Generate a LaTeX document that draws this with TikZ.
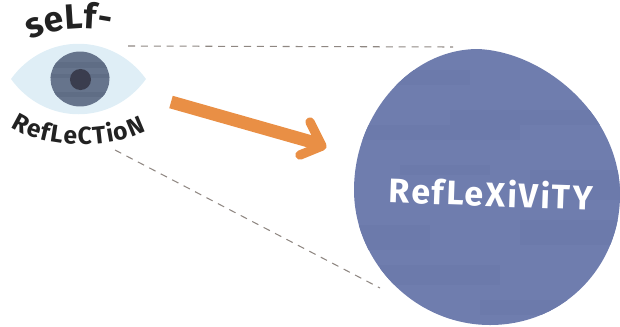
\documentclass[tikz,border=0pt]{standalone}
\usepackage{fontspec}
\setmainfont{Fira Sans}
\usetikzlibrary{shapes.geometric, decorations.text}
\definecolor{blobblue}{HTML}{6F7DAE}
\definecolor{blobdark}{HTML}{6C7AAB}
\definecolor{eyewhite}{HTML}{DFEEF6}
\definecolor{irisgrey}{HTML}{66748C}
\definecolor{irisdark}{HTML}{5F6D85}
\definecolor{pupilgrey}{HTML}{3A3D4E}
\definecolor{arroworange}{HTML}{E98F45}
\definecolor{dashgrey}{HTML}{8F8782}
\definecolor{inkblack}{HTML}{222222}
\tikzstyle{iris} = [
    ellipse,
    minimum width=50.3pt,
    minimum height=46.9pt,
    inner sep=0,
    fill=irisgrey
]
\tikzstyle{pupil} = [
    circle,
    minimum size=18pt,
    inner sep=0,
    fill=pupilgrey
]
\tikzstyle{dashline} = [dashgrey, line width=0.9pt, dash pattern=on 6pt off 5pt]
\tikzstyle{arrowline} = [arroworange, line width=11pt, line join=round]
\tikzstyle{headline} = [arroworange, line width=8pt, line cap=round, line join=round]

\begin{document}
\begin{tikzpicture}[x=0.03cm, y=-0.03cm]

\useasboundingbox (0,0) rectangle (620,326);

% the eye
\fill [eyewhite] (11,79) .. controls (45,32) and (112,32) .. (146,79)
    .. controls (112,126) and (45,126) .. (11,79);
\node (iris) [iris] at (80,79) {};
\begin{scope}
\clip (80,79) ellipse [x radius=29.5, y radius=27.5];
\foreach \ya/\yb in {62/68, 74/78, 92/97}
    \fill [irisdark] (50,\ya) rectangle (110,\yb);
\end{scope}
\node (pupil) [pupil] at (80.5,79.5) {};

% the big blob
\begin{scope}
\clip (478,49) .. controls (545,52) and (620,115) .. (620,195)
    .. controls (620,265) and (565,325) .. (490,325)
    .. controls (415,325) and (354,262) .. (354,190)
    .. controls (354,115) and (410,49) .. (478,49);
\fill [blobblue] (350,45) rectangle (620,326);
\foreach \xa/\ya/\xb/\yb in {350/70/470/85, 450/110/620/125, 350/125/520/140,
    400/165/490/175, 530/170/620/200, 350/225/430/250, 520/220/620/245,
    380/265/500/285, 480/300/600/315}
    \fill [blobdark] (\xa,\ya) rectangle (\xb,\yb);
\end{scope}
\node (reflexivity) [font=\fontsize{29}{29}\bfseries\addfontfeature{LetterSpace=6}, text=white, rotate=-2] at (491,193) {RefLeXiViTY};

% the labels
\path [decorate, decoration={text along path, text align={fit to path},
    text={|\fontsize{30}{30}\bfseries\selectfont\color{inkblack}|seLf-}}]
    (31,40) .. controls (55,28) and (85,26) .. (108,31);
\path [decorate, decoration={text along path, text align={fit to path},
    text={|\fontsize{21}{21}\bfseries\selectfont\color{inkblack}|RefLeCTioN}}]
    (11,127) .. controls (45,150) and (110,150) .. (146,131);

% the arrow
\coordinate (shaftstart) at (171,102);
\coordinate (shaftend) at (319,144);
\coordinate (headtop) at (310,122);
\coordinate (headtip) at (322,146);
\coordinate (headbottom) at (300,155);
\draw [arrowline] (shaftstart) -- (shaftend);
\draw [headline] (headtop) -- (headtip) -- (headbottom);

% the dashed lines
\coordinate (eyetop) at (128,46);
\coordinate (blobtop) at (453,47);
\coordinate (eyebottom) at (115,150);
\coordinate (blobbottom) at (380,288);
\draw [dashline] (eyetop) -- (blobtop);
\draw [dashline] (eyebottom) -- (blobbottom);

\end{tikzpicture}
\end{document}
